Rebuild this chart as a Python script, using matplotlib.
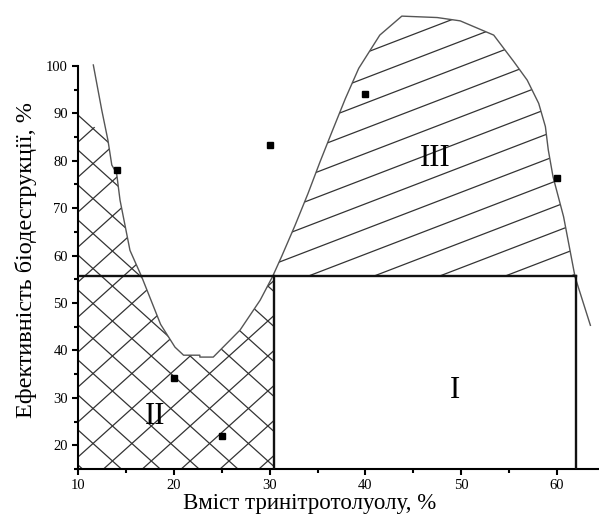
import numpy as np
import matplotlib
matplotlib.use('Agg')
import matplotlib.pyplot as plt
from matplotlib.patches import Polygon
from matplotlib.ticker import FixedLocator

plt.rcParams['font.family'] = ['Liberation Serif', 'DejaVu Serif']

# ── дані ─────────────────────────────────────────────────────────────────
tnt = [14, 20, 25, 30, 40, 60]
efficiency = [78.0, 34.1, 21.9, 83.3, 94.0, 76.3]

# межа областей (одна суцільна крива)
curve_x = [11.57, 12.45, 13.1, 13.5, 14.0, 14.36, 15.4, 16.6, 18.6, 20.1, 21.0,
           22.7, 22.7, 24.1, 26.9, 29.0, 30.3, 31.26, 32.65, 34.0, 35.26,
           36.5, 37.9, 39.3, 41.5, 43.8, 47.5, 49.9, 53.4, 55.5, 56.9, 58.1,
           58.8, 59.1, 59.6, 60.7, 61.9, 63.5]
curve_y = [100.2, 90.7, 84.3, 79.1, 77.4, 71.7, 61.1, 55.65, 45.5, 40.7, 39.0,
           39.0, 38.6, 38.6, 44.3, 50.6, 55.6, 59.9, 66.4, 73.1, 79.8,
           86.1, 93.1, 99.5, 106.5, 110.5, 110.2, 109.5, 106.5, 100.9, 97.0,
           92.1, 87.2, 82.3, 76.6, 68.2, 55.5, 45.3]

level = 55.6          # горизонтальна межа
box_left = 30.4
box_right = 62.0
region_labels = ['I', 'II', 'III']
label_x = [49.4, 18.0, 47.3]
label_y = [31.6, 26.0, 80.5]

x_ticks = [10, 20, 30, 40, 50, 60]
x_minor = [15, 25, 35, 45, 55]
y_ticks = [20, 30, 40, 50, 60, 70, 80, 90, 100]
y_minor = [15, 25, 35, 45, 55, 65, 75, 85, 95]


def hatch(ax, poly, angle, spacing, color='#333333', lw=0.9):
    """Штрихування полігона лініями під кутом angle (у пікселях)."""
    ax.add_patch(poly)
    to_px = ax.transData
    to_data = ax.transData.inverted()
    verts = to_px.transform(poly.get_xy())
    cx, cy = verts.mean(axis=0)
    r = np.hypot(*(verts - [cx, cy]).T).max() + spacing
    t = np.radians(angle)
    d = np.array([np.cos(t), np.sin(t)])
    n = np.array([-np.sin(t), np.cos(t)])
    for k in np.arange(-r, r, spacing):
        p0 = np.array([cx, cy]) + n * k - d * r
        p1 = np.array([cx, cy]) + n * k + d * r
        seg = to_data.transform(np.vstack([p0, p1]))
        ln, = ax.plot(seg[:, 0], seg[:, 1], color=color, lw=lw, zorder=2)
        ln.set_clip_path(poly)


fig = plt.figure(figsize=(5.99, 5.21), dpi=100)
ax = fig.add_axes([0.1307, 0.0998, 0.8693, 0.9002])
ax.set_xlim(10, 64.4)
ax.set_ylim(15, 113.9)

cx = np.array(curve_x)
cy = np.array(curve_y)

# область II (подвійне штрихування)
i_top = 2
i_mid = curve_x.index(30.3)
poly2 = np.vstack([[[10, 15], [10, 90.5]],
                   np.column_stack([cx[i_top:i_mid + 1], cy[i_top:i_mid + 1]]),
                   [[box_left, level], [box_left, 15]]])
p2 = Polygon(poly2, closed=True, fill=False, edgecolor='none')
hatch(ax, p2, 42, 26)
p2b = Polygon(poly2, closed=True, fill=False, edgecolor='none')
hatch(ax, p2b, -42, 26)

# область III (похиле штрихування)
i_end = curve_x.index(61.9)
poly3 = np.column_stack([cx[i_mid:i_end + 1], cy[i_mid:i_end + 1]])
p3 = Polygon(poly3, closed=True, fill=False, edgecolor='none')
hatch(ax, p3, 21, 23.5)

ax.plot(curve_x, curve_y, color='#555555', lw=1.0, zorder=3)

# область I (прямокутник)
ax.plot([10, box_right], [level, level], color='#111111', lw=1.7, zorder=4)
ax.plot([box_left, box_left], [15, level], color='#111111', lw=1.7, zorder=4)
ax.plot([box_right, box_right], [15, level], color='#111111', lw=1.7, zorder=4)

ax.plot(tnt, efficiency, 's', color='black', markersize=5, zorder=5)

for txt, lx, ly in zip(region_labels, label_x, label_y):
    ax.text(lx, ly, txt, fontsize=22, ha='center', va='center', zorder=6)

for side in ('top', 'right'):
    ax.spines[side].set_visible(False)
ax.spines['left'].set_bounds(15, 100)
for side in ('left', 'bottom'):
    ax.spines[side].set_linewidth(1.5)

ax.set_xticks(x_ticks)
ax.set_yticks(y_ticks)
ax.xaxis.set_minor_locator(FixedLocator(x_minor))
ax.yaxis.set_minor_locator(FixedLocator(y_minor))
ax.tick_params(which='major', direction='out', length=4, width=1.5, labelsize=10.5)
ax.tick_params(which='minor', direction='out', length=3, width=1.5)
ax.set_xlim(10, 64.4)
ax.set_ylim(15, 113.9)

ax.set_xlabel('Вміст тринітротолуолу, %', fontsize=16.5)
ax.set_ylabel('Ефективність біодеструкції, %', fontsize=17.5)
ax.xaxis.set_label_coords(0.445, -0.052)
ax.yaxis.set_label_coords(-0.08, 0.445)

fig.savefig('out.png', dpi=100)
